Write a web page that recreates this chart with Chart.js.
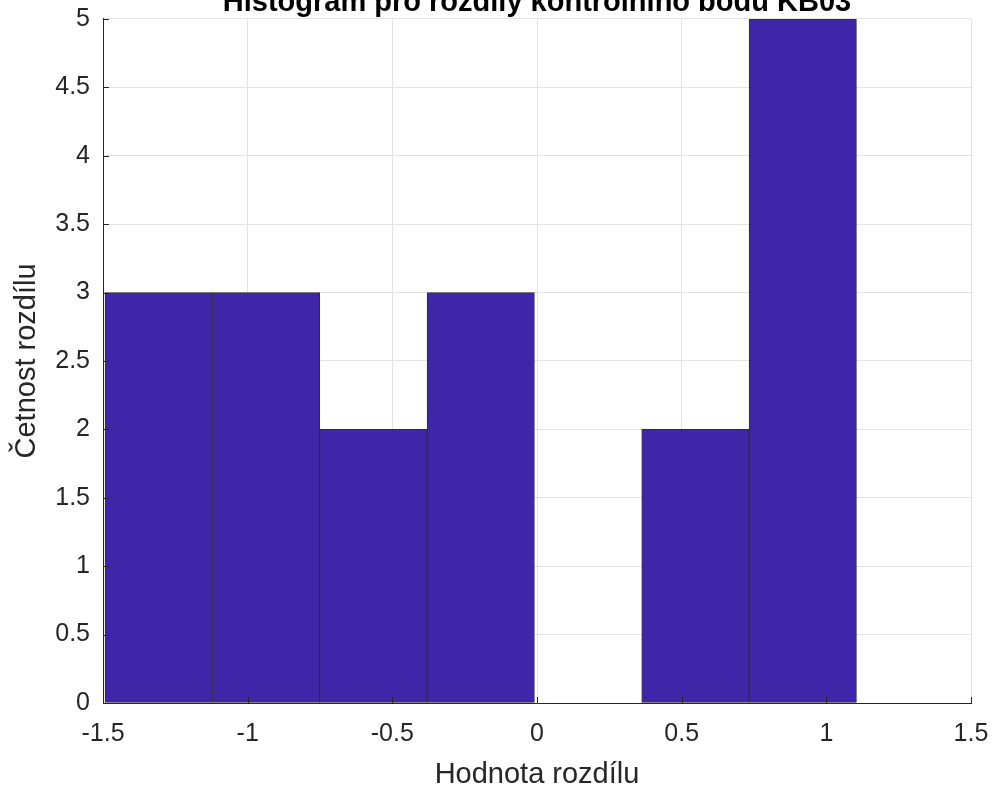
<!DOCTYPE html>
<html><head><meta charset="utf-8">
<script src="https://cdn.jsdelivr.net/npm/chart.js@4"></script>
<style>
html,body{margin:0;padding:0;background:#fff;overflow:hidden;}
#wrap{position:absolute;left:0;top:-20px;width:995px;height:807px;}
</style></head><body>
<div id="wrap"><canvas id="c"></canvas></div>
<script>
const titleText = 'Histogram pro rozdíly kontrolního bodu KB03';
const xLabel = 'Hodnota rozdílu';
const yLabel = 'Četnost rozdílu';
const binCenters = [-1.3075, -0.9365, -0.5655, -0.1945, 0.1765, 0.5475, 0.9185];
const binCounts = [3, 3, 2, 3, 0, 2, 5];
const xTicks = [-1.5, -1, -0.5, 0, 0.5, 1, 1.5];
const yTicks = [0, 0.5, 1, 1.5, 2, 2.5, 3, 3.5, 4, 4.5, 5];

const FONT = "'Liberation Sans', Arial, Helvetica, sans-serif";
const AX = '#262626';

const inwardTicks = {
  id: 'inwardTicks',
  afterDatasetsDraw(chart) {
    const ctx = chart.ctx, a = chart.chartArea;
    const xs = chart.scales.x, ys = chart.scales.y;
    ctx.save();
    ctx.strokeStyle = AX; ctx.lineWidth = 1;
    ctx.beginPath();
    xs.ticks.forEach(t => { const p = Math.round(xs.getPixelForValue(t.value)) + 0.5; ctx.moveTo(p, a.bottom); ctx.lineTo(p, a.bottom - 6); });
    ys.ticks.forEach(t => { const p = Math.round(ys.getPixelForValue(t.value)) + 0.5; ctx.moveTo(a.left, p); ctx.lineTo(a.left + 6, p); });
    ctx.stroke();
    ctx.restore();
  }
};

const fmt = v => String(v);

new Chart(document.getElementById('c'), {
  type: 'bar',
  data: {
    datasets: [{
      data: binCenters.map((c, i) => ({ x: c, y: binCounts[i] })),
      backgroundColor: 'rgb(62,38,168)',
      borderColor: '#2a2a2a',
      borderWidth: 0.8,
      borderSkipped: false,
      barPercentage: 1,
      categoryPercentage: 1
    }]
  },
  options: {
    responsive: true,
    maintainAspectRatio: false,
    animation: false,
    layout: { padding: { left: 0, right: 24, top: 0, bottom: 0 } },
    plugins: {
      legend: { display: false },
      tooltip: { enabled: false },
      title: {
        display: true,
        fullSize: false,
        text: titleText,
        color: '#000',
        font: { family: FONT, size: 29, weight: 'bold', lineHeight: 1.1 },
        padding: { top: 7, bottom: 0 }
      }
    },
    scales: {
      x: {
        type: 'linear',
        min: -1.5, max: 1.5,
        offset: false,
        afterBuildTicks: s => { s.ticks = xTicks.map(v => ({ value: v })); },
        afterFit: s => { s.height = 84; s.paddingLeft = 0; s.paddingRight = 0; },
        grid: { color: '#e3e3e3', offset: false, drawTicks: false, lineWidth: 1 },
        border: { color: AX, width: 1 },
        ticks: { color: AX, font: { family: FONT, size: 25 }, padding: 16, maxRotation: 0, autoSkip: false, callback: fmt },
        title: { display: true, text: xLabel, color: AX, font: { family: FONT, size: 29, lineHeight: 0.8 }, padding: { top: 0, bottom: 0 } }
      },
      y: {
        min: 0, max: 5,
        afterBuildTicks: s => { s.ticks = yTicks.map(v => ({ value: v })); },
        afterFit: s => { s.width = 103; s.paddingTop = 0; s.paddingBottom = 0; },
        grid: { color: '#e3e3e3', drawTicks: false, lineWidth: 1 },
        border: { color: AX, width: 1 },
        ticks: { color: AX, font: { family: FONT, size: 25 }, padding: 13, callback: fmt },
        title: { display: true, text: yLabel, color: AX, font: { family: FONT, size: 29, lineHeight: 1 }, padding: { top: 12, bottom: 0 } }
      }
    }
  },
  plugins: [inwardTicks]
});
</script>
</body></html>
